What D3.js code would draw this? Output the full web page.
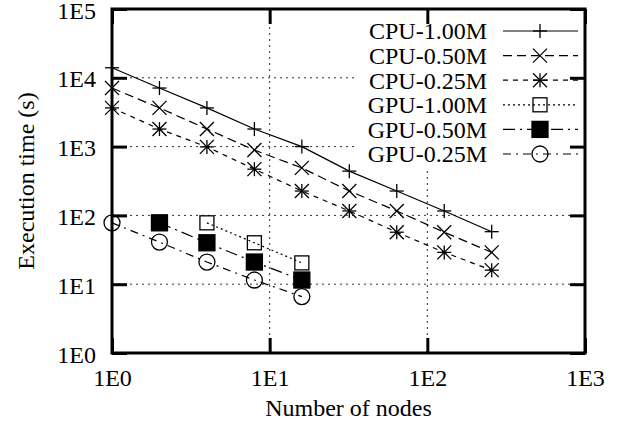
<!DOCTYPE html>
<html><head><meta charset="utf-8">
<script src="https://cdn.jsdelivr.net/npm/d3@7"></script>
<style>body{margin:0;background:#fff}svg{display:block}text{font-family:"Liberation Serif","Times New Roman",serif;fill:#000}</style>
</head><body><svg id="c" width="622" height="431"></svg>
<script>
const nodes = [1, 2, 4, 8, 16, 32, 64, 128, 256];
const gpuNodes = [1, 2, 4, 8, 16];
const cpu100 = [14000, 7100, 3650, 1800, 1000, 440, 226, 116, 58];
const cpu050 = [7100, 3650, 1800, 890, 490, 226, 116, 57, 29];
const cpu025 = [3650, 1800, 990, 470, 226, 116, 57, 29, 16];
const gpu100 = [null, null, 78, 40, 20.4];
const gpu050 = [null, 78, 40, 21, 11.5];
const gpu025 = [78, 41, 21, 11.5, 6.6];
const xTicks = [1, 10, 100, 1000];
const yTicks = [1, 10, 100, 1000, 10000, 100000];
const tickLabel = d => "1E" + Math.round(Math.log10(d));

const series = [
  {name: "CPU-1.00M", x: nodes, y: cpu100, dash: null, marker: "plus"},
  {name: "CPU-0.50M", x: nodes, y: cpu050, dash: "9,5", marker: "cross"},
  {name: "CPU-0.25M", x: nodes, y: cpu025, dash: "5,5", marker: "star"},
  {name: "GPU-1.00M", x: gpuNodes, y: gpu100, dash: "2,3", marker: "square"},
  {name: "GPU-0.50M", x: gpuNodes, y: gpu050, dash: "12,5,2,5", marker: "fsquare"},
  {name: "GPU-0.25M", x: gpuNodes, y: gpu025, dash: "8,5,2,5", marker: "circle"}
];

const svg = d3.select("#c");
const L = 112, R = 585, T = 9, B = 353;
const x = d3.scaleLog().domain([1, 1000]).range([L, R]);
const y = d3.scaleLog().domain([1, 100000]).range([B, T]);

// grid
const g = svg.append("g");
g.selectAll(".gx").data(xTicks.slice(1, -1)).join("line")
  .attr("x1", d => x(d)).attr("x2", d => x(d)).attr("y1", T).attr("y2", B)
  .attr("stroke", "#333").attr("stroke-width", 1).attr("stroke-dasharray", "2,4");
g.selectAll(".gy").data(yTicks.slice(1, -1)).join("line")
  .attr("y1", d => y(d)).attr("y2", d => y(d)).attr("x1", L).attr("x2", R)
  .attr("stroke", "#333").attr("stroke-width", 1).attr("stroke-dasharray", "2,4");

// legend background (gnuplot opaque key)
svg.append("rect").attr("x", 358).attr("y", T).attr("width", R - 358).attr("height", 168 - T).attr("fill", "#fff");

// axes (inward ticks)
const tl = 15;
svg.append("g").attr("transform", `translate(0,${B})`)
  .call(d3.axisBottom(x).tickValues(xTicks).tickFormat(tickLabel).tickSizeInner(-tl).tickSizeOuter(0).tickPadding(16))
  .call(a => { a.select(".domain").remove(); a.selectAll("text").attr("font-size", 24); a.selectAll("line").attr("stroke-width", 3); });
svg.append("g").attr("transform", `translate(0,${T})`)
  .call(d3.axisTop(x).tickValues(xTicks).tickFormat("").tickSizeInner(-tl).tickSizeOuter(0))
  .call(a => { a.select(".domain").remove(); a.selectAll("line").attr("stroke-width", 3); });
svg.append("g").attr("transform", `translate(${L},0)`)
  .call(d3.axisLeft(y).tickValues(yTicks).tickFormat(tickLabel).tickSizeInner(-tl).tickSizeOuter(0).tickPadding(16))
  .call(a => { a.select(".domain").remove(); a.selectAll("text").attr("font-size", 24).attr("dy", "0.38em"); a.selectAll("line").attr("stroke-width", 3); });
svg.append("g").attr("transform", `translate(${R},0)`)
  .call(d3.axisRight(y).tickValues(yTicks).tickFormat("").tickSizeInner(-tl).tickSizeOuter(0))
  .call(a => { a.select(".domain").remove(); a.selectAll("line").attr("stroke-width", 3); });

svg.append("rect").attr("x", L).attr("y", T).attr("width", R - L).attr("height", B - T)
  .attr("fill", "none").attr("stroke", "#000").attr("stroke-width", 3);

// labels
svg.append("text").attr("x", (L + R) / 2).attr("y", 416).attr("text-anchor", "middle").attr("font-size", 24).text("Number of nodes");
svg.append("text").attr("transform", `translate(34,${(T + B) / 2}) rotate(-90)`).attr("text-anchor", "middle").attr("font-size", 24).text("Execution time (s)");

function marker(sel, type, cx, cy) {
  const s = 7;
  const m = sel.append("g").attr("transform", `translate(${cx},${cy})`).attr("stroke", "#000").attr("stroke-width", 1.3).attr("fill", "none");
  if (type === "plus" || type === "star") {
    m.append("line").attr("x1", -s).attr("x2", s).attr("y1", 0).attr("y2", 0);
    m.append("line").attr("x1", 0).attr("x2", 0).attr("y1", -s).attr("y2", s);
  }
  if (type === "cross" || type === "star") {
    m.append("line").attr("x1", -s).attr("x2", s).attr("y1", -s).attr("y2", s);
    m.append("line").attr("x1", -s).attr("x2", s).attr("y1", s).attr("y2", -s);
  }
  if (type === "square") m.append("rect").attr("x", -s).attr("y", -s).attr("width", 2 * s).attr("height", 2 * s);
  if (type === "fsquare") m.append("rect").attr("x", -s - 1).attr("y", -s - 1).attr("width", 2 * s + 2).attr("height", 2 * s + 2).attr("fill", "#000");
  if (type === "circle") m.append("circle").attr("r", s + 1);
}

const line = d3.line().x(d => x(d[0])).y(d => y(d[1]));
series.forEach(s => {
  const pts = s.x.map((v, i) => [v, s.y[i]]).filter(d => d[1] != null);
  svg.append("path").datum(pts).attr("d", line).attr("fill", "none").attr("stroke", "#000")
    .attr("stroke-width", 1.2).attr("stroke-dasharray", s.dash);
  pts.forEach(p => marker(svg, s.marker, x(p[0]), y(p[1])));
});

// legend
const ly0 = 31, ldy = 24.6;
series.forEach((s, i) => {
  const yy = ly0 + i * ldy;
  svg.append("text").attr("x", 487).attr("y", yy).attr("dy", "0.35em").attr("text-anchor", "end").attr("font-size", 24).text(s.name);
  svg.append("line").attr("x1", 503).attr("x2", 578).attr("y1", yy).attr("y2", yy)
    .attr("stroke", "#000").attr("stroke-width", 1.2).attr("stroke-dasharray", s.dash);
  marker(svg, s.marker, 540, yy);
});
</script></body></html>
